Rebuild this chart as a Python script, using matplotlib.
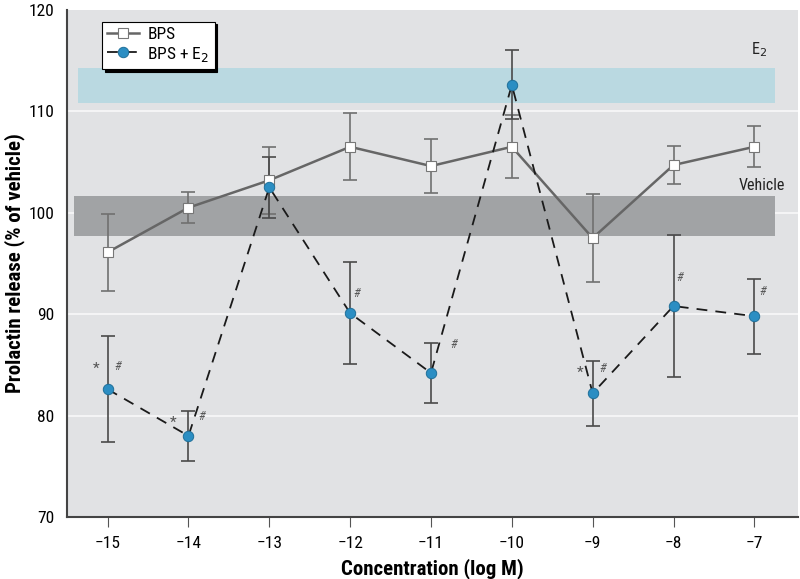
import matplotlib
matplotlib.use("Agg")
import matplotlib.pyplot as plt
from matplotlib import font_manager
import numpy as np

names = {f.name for f in font_manager.fontManager.ttflist}
fam = None
for cand in ['Liberation Sans Narrow', 'DejaVu Sans Condensed', 'Roboto Condensed', 'Open Sans Condensed']:
    if cand in names:
        fam = cand
        break
if fam is None:
    fam = 'DejaVu Sans'
plt.rcParams['font.family'] = [fam, 'DejaVu Sans']
stretch = 'condensed'

conc = [-15, -14, -13, -12, -11, -10, -9, -8, -7]
bps = [96.1, 100.5, 103.2, 106.5, 104.6, 106.5, 97.5, 104.7, 106.5]
bps_err = [3.8, 1.5, 3.3, 3.3, 2.7, 3.1, 4.3, 1.9, 2.0]
bps_e2 = [82.6, 78.0, 102.5, 90.1, 84.2, 112.6, 82.2, 90.8, 89.8]
bps_e2_err = [5.2, 2.5, 3.0, 5.0, 3.0, 3.4, 3.2, 7.0, 3.7]

e2_band = (110.8, 114.3)
vehicle_band = (97.7, 101.6)

marks_x = [-15.14, -14.87, -14.19, -13.84, -11.92, -10.72, -9.16, -8.88, -7.92, -6.9]
marks_y = [84.6, 84.8, 79.3, 79.9, 92.0, 87.0, 84.2, 84.6, 93.6, 92.2]
marks_t = ['*', '#', '*', '#', '#', '#', '*', '#', '#', '#']

fig = plt.figure(figsize=(8, 5.79), dpi=100)
ax = fig.add_axes([0.084, 0.107, 0.9135, 0.876])
ax.set_facecolor('#e1e2e4')
fig.patch.set_facecolor('white')

ax.set_xlim(-15.5, -6.46)
ax.set_ylim(70, 120)

for yv in [80, 90, 100, 110]:
    ax.axhline(yv, color='#f4f4f5', lw=1.5, zorder=0.5)

ax.fill_between([-15.37, -6.74], e2_band[0], e2_band[1], color='#bad9e1', lw=0, zorder=1)
ax.fill_between([-15.41, -6.74], vehicle_band[0], vehicle_band[1], color='#a1a3a5', lw=0, zorder=1)

ax.text(-6.94, 115.2, 'E$_2$', fontsize=11.5, color='#222222', ha='center', va='bottom',
        fontstretch=stretch)
ax.text(-7.2, 101.9, 'Vehicle', fontsize=11.5, color='#222222', ha='left', va='bottom',
        fontstretch=stretch)

ax.errorbar(conc, bps, yerr=bps_err, fmt='none', ecolor='#707070', elinewidth=1.2,
            capsize=5, capthick=1.2, zorder=3)
ax.errorbar(conc, bps_e2, yerr=bps_e2_err, fmt='none', ecolor='#4a4a4a', elinewidth=1.2,
            capsize=5, capthick=1.2, zorder=3)

l1, = ax.plot(conc, bps, color='#666666', lw=1.8, marker='s', markersize=7.5,
              markerfacecolor='white', markeredgecolor='#777777', markeredgewidth=0.8,
              zorder=4, label='BPS')
l2, = ax.plot(conc, bps_e2, color='#1a1a1a', lw=1.3, ls=(0, (6, 4.5)), marker='o',
              markersize=7.5, markerfacecolor='#2b8ec3', markeredgecolor='#1f6f99',
              markeredgewidth=0.7, zorder=5, label='BPS + E$_2$')

for x, y, t in zip(marks_x, marks_y, marks_t):
    ax.text(x, y, t, fontsize=11 if t == '*' else 9, color='#555555',
            ha='center', va='center', style='normal' if t == '*' else 'italic', zorder=6)

leg = ax.legend(handles=[l1, l2], loc='upper left', bbox_to_anchor=(0.036, 0.994),
                fancybox=False, shadow={'color': 'black', 'alpha': 1.0},
                edgecolor='black', framealpha=1,
                prop={'size': 12.5, 'stretch': stretch}, handlelength=1.8,
                borderpad=0.3, labelspacing=0.15, handletextpad=0.5)
leg.get_frame().set_linewidth(0.8)

ax.set_xticks(conc)
ax.set_xticklabels(['\u2212%d' % abs(c) for c in conc], fontsize=12.5, fontstretch=stretch)
ax.set_yticks([70, 80, 90, 100, 110, 120])
ax.set_yticklabels(['70', '80', '90', '100', '110', '120'], fontsize=12.5, fontstretch=stretch)
ax.tick_params(axis='y', length=0, pad=9)
ax.tick_params(axis='x', length=7, color='#555555', pad=7, direction='out')

for s in ['top', 'right']:
    ax.spines[s].set_visible(False)
ax.spines['left'].set_color('#444444')
ax.spines['bottom'].set_color('#444444')
ax.spines['left'].set_linewidth(1.5)
ax.spines['bottom'].set_linewidth(1.5)

ax.set_xlabel('Concentration (log M)', fontsize=15, fontweight='bold', labelpad=5,
              fontstretch=stretch)
ax.set_ylabel('Prolactin release (% of vehicle)', fontsize=15, fontweight='bold', labelpad=3,
              fontstretch=stretch)

fig.savefig('out.png', dpi=100)
